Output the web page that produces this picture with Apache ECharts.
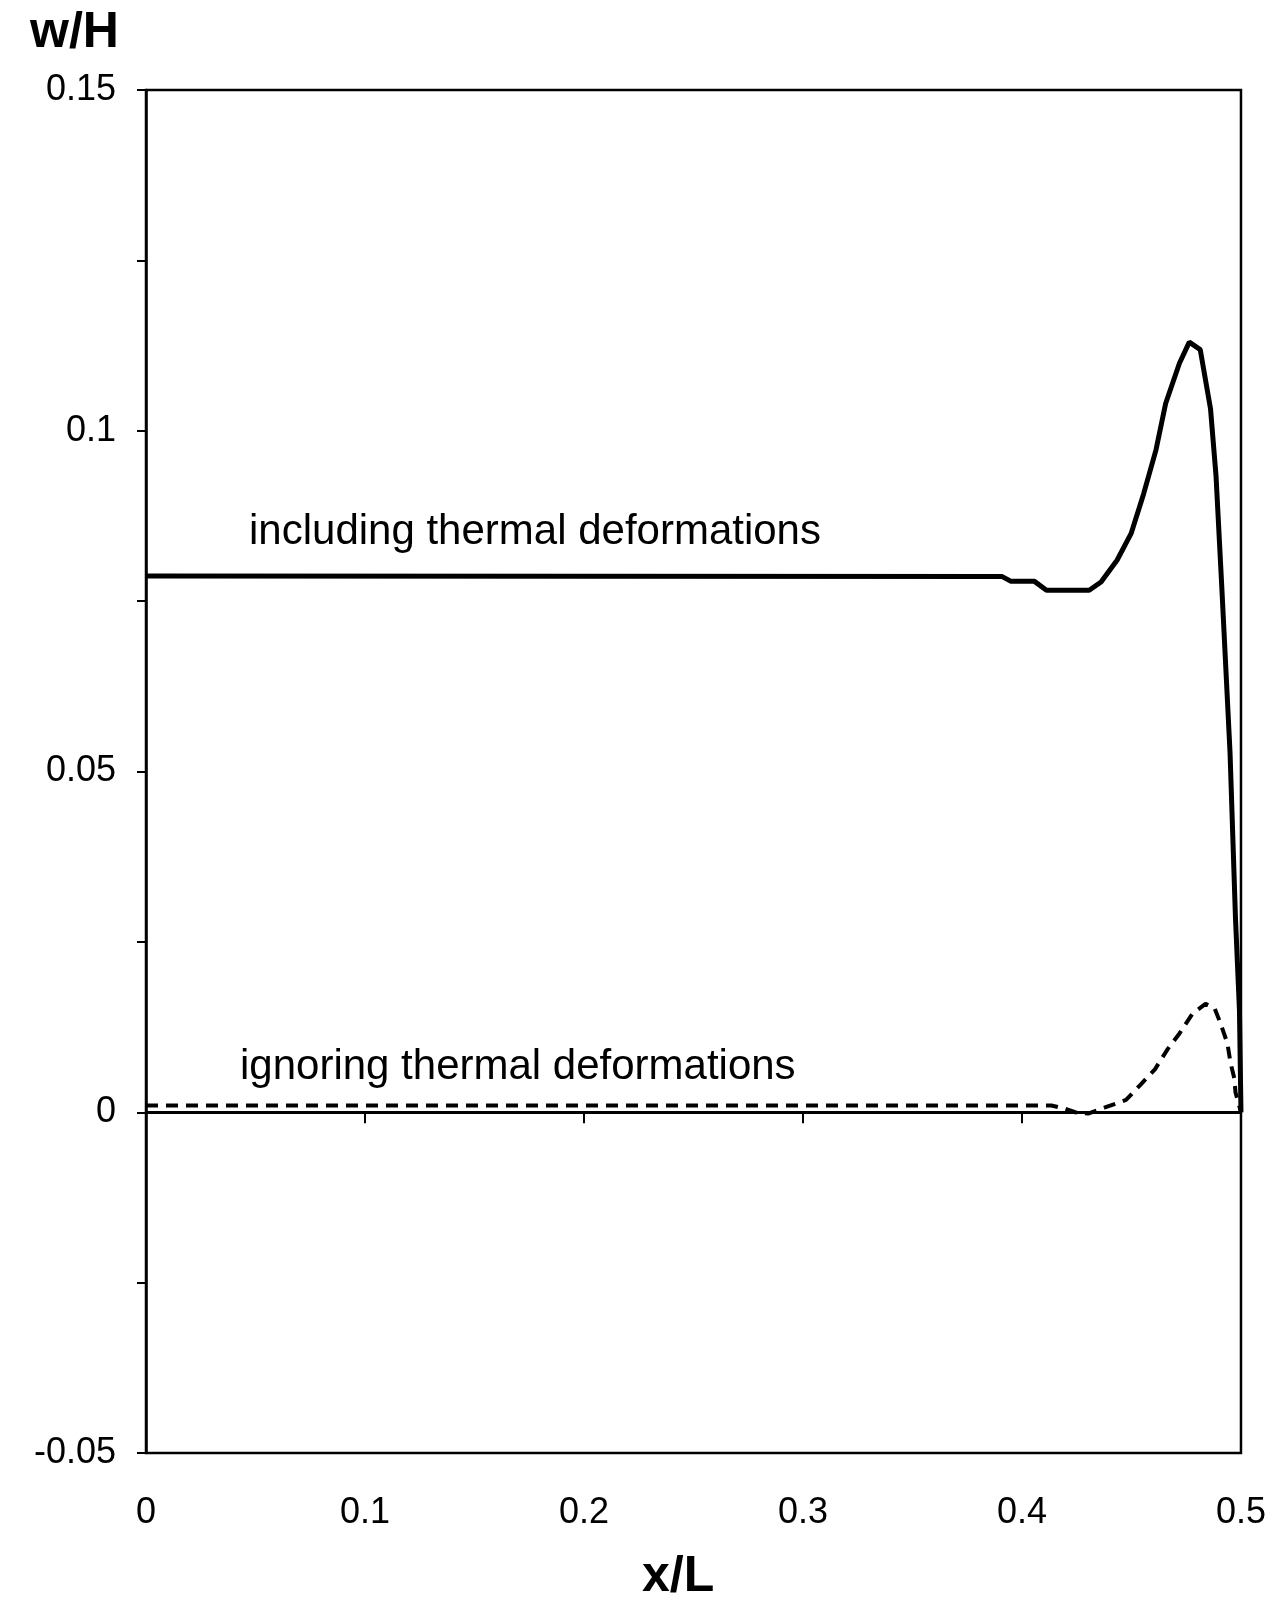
<!DOCTYPE html>
<html>
<head>
<meta charset="utf-8">
<script src="https://cdn.jsdelivr.net/npm/echarts@6/dist/echarts.min.js"></script>
<style>
  html, body { margin: 0; padding: 0; background: #fff; }
  #chart { width: 1269px; height: 1605px; }
</style>
</head>
<body>
<div id="chart"></div>
<script>
// w/H with thermal deformations (solid)
const withThermal = [
  [0, 0.0787], [0.391, 0.0786], [0.395, 0.0779], [0.4057, 0.0779],
  [0.4112, 0.0766], [0.4307, 0.0766], [0.4361, 0.0778], [0.4434, 0.081],
  [0.4498, 0.0849], [0.4555, 0.0907], [0.4612, 0.0972], [0.4656, 0.104],
  [0.4719, 0.1099], [0.4764, 0.113], [0.4814, 0.1119], [0.4861, 0.1032],
  [0.4886, 0.0934], [0.4912, 0.0773], [0.495, 0.0528], [0.4975, 0.0284],
  [0.4993, 0.015], [0.5, 0]
];

// w/H ignoring thermal deformations (dashed)
const noThermal = [
  [0, 0.001], [0.3893, 0.001], [0.4134, 0.001], [0.4188, 0.0006],
  [0.4243, 0.0], [0.4302, -0.0002], [0.4379, 0.0007], [0.4475, 0.0018],
  [0.4543, 0.0041], [0.4607, 0.0063], [0.4666, 0.0093], [0.472, 0.0116],
  [0.4779, 0.0145], [0.4838, 0.0159], [0.4879, 0.0153], [0.4906, 0.0131],
  [0.4938, 0.0101], [0.4952, 0.0073], [0.497, 0.0049], [0.4975, 0.0029],
  [0.5, 0]
];

const labelFont = "Liberation Sans, Arial, sans-serif";

const chart = echarts.init(document.getElementById("chart"));
chart.setOption({
  backgroundColor: "#fff",
  animation: false,
  grid: {
    left: 146,
    right: 21,
    top: 90,
    bottom: 152,
    show: true,
    borderColor: "#000",
    borderWidth: 2.5,
  },
  xAxis: {
    type: "value",
    min: 0,
    max: 0.5,
    interval: 0.1,
    axisLine: { lineStyle: { color: "#000", width: 2.5 } },
    axisTick: { length: 11, lineStyle: { color: "#000", width: 2 } },
    splitLine: { show: false },
    axisLabel: {
      color: "#000",
      fontFamily: labelFont,
      fontSize: 36,
      margin: 42,
      showMaxLabel: true,
    },
  },
  yAxis: {
    type: "value",
    min: -0.05,
    max: 0.15,
    interval: 0.025,
    axisLine: { show: true, lineStyle: { color: "#000", width: 2.5 } },
    axisTick: { show: true, length: 9, lineStyle: { color: "#000", width: 2 } },
    splitLine: { show: false },
    axisLabel: {
      color: "#000",
      fontFamily: labelFont,
      fontSize: 36,
      margin: 30,
      formatter: function (v) {
        const k = Math.round(v / 0.025);
        return k % 2 === 0 ? String(+v.toFixed(3)) : "";
      },
    },
  },
  series: [
    {
      name: "including thermal deformations",
      type: "line",
      data: withThermal,
      showSymbol: false,
      lineStyle: { color: "#000", width: 5 },
      markLine: {
        silent: true,
        symbol: "none",
        label: { show: false },
        lineStyle: { color: "#000", width: 3, type: "solid" },
        data: [{ yAxis: 0 }],
      },
    },
    {
      name: "ignoring thermal deformations",
      type: "line",
      data: noThermal,
      showSymbol: false,
      lineStyle: { color: "#000", width: 4, type: [12, 8] },
    },
  ],
  graphic: [
    {
      type: "text",
      left: 30,
      top: 8,
      style: { text: "w/H", font: "bold 50px " + labelFont, fill: "#000" },
    },
    {
      type: "text",
      left: 642,
      top: 1552,
      style: { text: "x/L", font: "bold 50px " + labelFont, fill: "#000" },
    },
    {
      type: "text",
      left: 249,
      top: 511,
      style: { text: "including thermal deformations", font: "42px " + labelFont, fill: "#000" },
    },
    {
      type: "text",
      left: 240,
      top: 1046,
      style: { text: "ignoring thermal deformations", font: "42px " + labelFont, fill: "#000" },
    },
  ],
});
</script>
</body>
</html>
